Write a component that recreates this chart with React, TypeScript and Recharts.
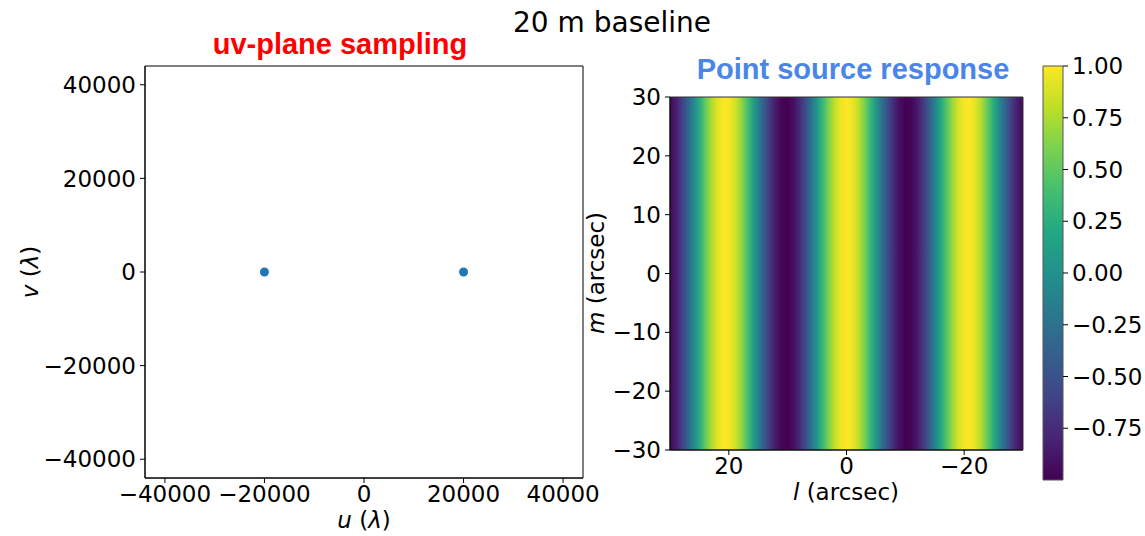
import { ReferenceArea, Scatter, ScatterChart, XAxis, YAxis } from 'recharts';

// uv-plane sampling: the two visibilities of a single 20 m baseline
const uvPoints = [
  { u: -20000, v: 0 },
  { u: 20000, v: 0 }
];
const uvTicks = [-40000, -20000, 0, 20000, 40000];
const uvDomain: [number, number] = [-44000, 44000];

// point source response, read across l (left edge l = 30 to right edge l = -30)
const lSamples = [
  30, 29, 28, 27, 26, 25, 24, 23, 22, 21, 20, 19, 18, 17, 16, 15, 14, 13, 12, 11, 10,
  9, 8, 7, 6, 5, 4, 3, 2, 1, 0, -1, -2, -3, -4, -5, -6, -7, -8, -9, -10,
  -11, -12, -13, -14, -15, -16, -17, -18, -19, -20, -21, -22, -23, -24, -25, -26, -27, -28, -29, -30
];
const response = [
  -0.96, -0.84, -0.63, -0.37, -0.08, 0.23, 0.51, 0.74, 0.91, 0.99, 0.98, 0.88, 0.7, 0.46, 0.17, -0.14, -0.43, -0.68, -0.87, -0.98, -1.0,
  -0.92, -0.76, -0.53, -0.26, 0.05, 0.34, 0.61, 0.82, 0.95, 1.0, 0.95, 0.82, 0.61, 0.34, 0.05, -0.26, -0.53, -0.76, -0.92, -1.0,
  -0.98, -0.87, -0.68, -0.43, -0.14, 0.17, 0.46, 0.7, 0.88, 0.98, 0.99, 0.91, 0.74, 0.51, 0.23, -0.08, -0.37, -0.63, -0.84, -0.96
];
const lDomain: [number, number] = [-30, 30];
const mDomain: [number, number] = [-30, 30];
const lTicks = [20, 0, -20];
const mTicks = [-30, -20, -10, 0, 10, 20, 30];
const cbarDomain: [number, number] = [-1, 1];
const cbarTicks = [1, 0.75, 0.5, 0.25, 0, -0.25, -0.5, -0.75];

const VIRIDIS = [
  '#440154', '#482475', '#414487', '#355f8d', '#2a788e', '#21918c',
  '#22a884', '#44bf70', '#7ad151', '#bddf26', '#fde725'
];

const hex = (c: string) => [1, 3, 5].map((i) => parseInt(c.slice(i, i + 2), 16));

const viridis = (t: number) => {
  const p = Math.max(0, Math.min(1, t)) * (VIRIDIS.length - 1);
  const i = Math.min(Math.floor(p), VIRIDIS.length - 2);
  const f = p - i;
  const a = hex(VIRIDIS[i]);
  const b = hex(VIRIDIS[i + 1]);
  const rgb = a.map((x, k) => Math.round(x + (b[k] - x) * f));
  return `rgb(${rgb.join(',')})`;
};

const minus = (s: string) => s.replace('-', '\u2212');
const fmtInt = (v: number) => minus(String(v));
const fmtCbar = (v: number) => minus(v.toFixed(2));

const FONT = "'DejaVu Sans', sans-serif";
const tickStyle = { fontSize: 23, fontFamily: FONT, fill: '#000' };
const axisLine = { stroke: '#000', strokeWidth: 1 };

const UvPlane = () => (
  <ScatterChart width={600} height={536} margin={{ top: 66, right: 17, bottom: 18, left: 0 }}>
    <XAxis
      type="number"
      dataKey="u"
      domain={uvDomain}
      ticks={uvTicks}
      interval={0}
      allowDataOverflow
      tickFormatter={fmtInt}
      tick={tickStyle}
      axisLine={axisLine}
      tickLine={axisLine}
      tickSize={5}
      tickMargin={3}
      height={40}
    />
    <YAxis
      type="number"
      dataKey="v"
      domain={uvDomain}
      ticks={uvTicks}
      interval={0}
      allowDataOverflow
      tickFormatter={fmtInt}
      tick={tickStyle}
      axisLine={axisLine}
      tickLine={axisLine}
      tickSize={5}
      tickMargin={4}
      width={145}
    />
    <ReferenceArea
      x1={uvDomain[0]}
      x2={uvDomain[1]}
      y1={uvDomain[0]}
      y2={uvDomain[1]}
      fill="none"
      stroke="#000"
      strokeWidth={1}
    />
    <Scatter
      data={uvPoints}
      isAnimationActive={false}
      shape={(p: any) => <circle cx={p.cx} cy={p.cy} r={4.5} fill="#1f77b4" />}
    />
  </ScatterChart>
);

const PointSource = () => (
  <ScatterChart width={450} height={536} margin={{ top: 97, right: 17, bottom: 46, left: 0 }}>
    <defs>
      <linearGradient id="fringe" x1="0" y1="0" x2="1" y2="0">
        {lSamples.map((l, i) => (
          <stop
            key={l}
            offset={(lDomain[1] - l) / (lDomain[1] - lDomain[0])}
            stopColor={viridis((response[i] - cbarDomain[0]) / (cbarDomain[1] - cbarDomain[0]))}
          />
        ))}
      </linearGradient>
    </defs>
    <XAxis
      type="number"
      dataKey="l"
      domain={lDomain}
      ticks={lTicks}
      interval={0}
      reversed
      allowDataOverflow
      tickFormatter={fmtInt}
      tick={tickStyle}
      axisLine={axisLine}
      tickLine={axisLine}
      tickSize={5}
      tickMargin={3}
      height={40}
    />
    <YAxis
      type="number"
      dataKey="m"
      domain={mDomain}
      ticks={mTicks}
      interval={0}
      allowDataOverflow
      tickFormatter={fmtInt}
      tick={tickStyle}
      axisLine={axisLine}
      tickLine={axisLine}
      tickSize={5}
      tickMargin={4}
      width={80}
    />
    <ReferenceArea
      x1={lDomain[1]}
      x2={lDomain[0]}
      y1={mDomain[0]}
      y2={mDomain[1]}
      fill="url(#fringe)"
      fillOpacity={1}
      stroke="#333"
      strokeWidth={1}
    />
  </ScatterChart>
);

const Colorbar = () => (
  <ScatterChart width={115} height={536} margin={{ top: 66, right: 0, bottom: 56, left: 13 }}>
    <defs>
      <linearGradient id="viridisBar" x1="0" y1="1" x2="0" y2="0">
        {VIRIDIS.map((c, i) => (
          <stop key={c} offset={i / (VIRIDIS.length - 1)} stopColor={c} />
        ))}
      </linearGradient>
    </defs>
    <XAxis
      type="number"
      dataKey="x"
      domain={[0, 1]}
      allowDataOverflow
      tick={false}
      axisLine={false}
      tickLine={false}
      height={0}
    />
    <YAxis
      type="number"
      dataKey="y"
      orientation="right"
      domain={cbarDomain}
      ticks={cbarTicks}
      interval={0}
      allowDataOverflow
      tickFormatter={fmtCbar}
      tick={tickStyle}
      axisLine={false}
      tickLine={axisLine}
      tickSize={5}
      tickMargin={4}
      width={82}
    />
    <ReferenceArea
      x1={0}
      x2={1}
      y1={cbarDomain[0]}
      y2={cbarDomain[1]}
      fill="url(#viridisBar)"
      fillOpacity={1}
      stroke="#555"
      strokeWidth={1}
    />
  </ScatterChart>
);

const Labels = () => (
  <svg
    width={1145}
    height={536}
    style={{ position: 'absolute', left: 0, top: 0, pointerEvents: 'none' }}
  >
    <text x={612} y={32} textAnchor="middle" fontSize={28} fontFamily={FONT} fill="#000">
      20 m baseline
    </text>
    <text
      x={340}
      y={54}
      textAnchor="middle"
      fontSize={29}
      fontWeight="bold"
      fontFamily="'Liberation Sans', Arial, sans-serif"
      fill="#ff0000"
    >
      uv-plane sampling
    </text>
    <text
      x={853}
      y={79}
      textAnchor="middle"
      fontSize={29}
      fontWeight="bold"
      fontFamily="'Liberation Sans', Arial, sans-serif"
      fill="#4a86e8"
    >
      Point source response
    </text>
    <text x={364} y={528} textAnchor="middle" fontSize={23} fontFamily={FONT} fill="#000">
      <tspan fontStyle="italic">u</tspan> (<tspan fontStyle="italic">λ</tspan>)
    </text>
    <text
      transform="translate(38,272) rotate(-90)"
      textAnchor="middle"
      fontSize={23}
      fontFamily={FONT}
      fill="#000"
    >
      <tspan fontStyle="italic">v</tspan> (<tspan fontStyle="italic">λ</tspan>)
    </text>
    <text x={846} y={500} textAnchor="middle" fontSize={23} fontFamily={FONT} fill="#000">
      <tspan fontStyle="italic">l</tspan> (arcsec)
    </text>
    <text
      transform="translate(604,273) rotate(-90)"
      textAnchor="middle"
      fontSize={23}
      fontFamily={FONT}
      fill="#000"
    >
      <tspan fontStyle="italic">m</tspan> (arcsec)
    </text>
  </svg>
);

export default function App() {
  return (
    <div
      style={{
        position: 'absolute',
        left: 0,
        top: 0,
        width: 1145,
        height: 536,
        background: '#fff',
        overflow: 'hidden'
      }}
    >
      <div style={{ position: 'absolute', left: 0, top: 0 }}>
        <UvPlane />
      </div>
      <div style={{ position: 'absolute', left: 590, top: 0 }}>
        <PointSource />
      </div>
      <div style={{ position: 'absolute', left: 1030, top: 0 }}>
        <Colorbar />
      </div>
      <Labels />
    </div>
  );
}
